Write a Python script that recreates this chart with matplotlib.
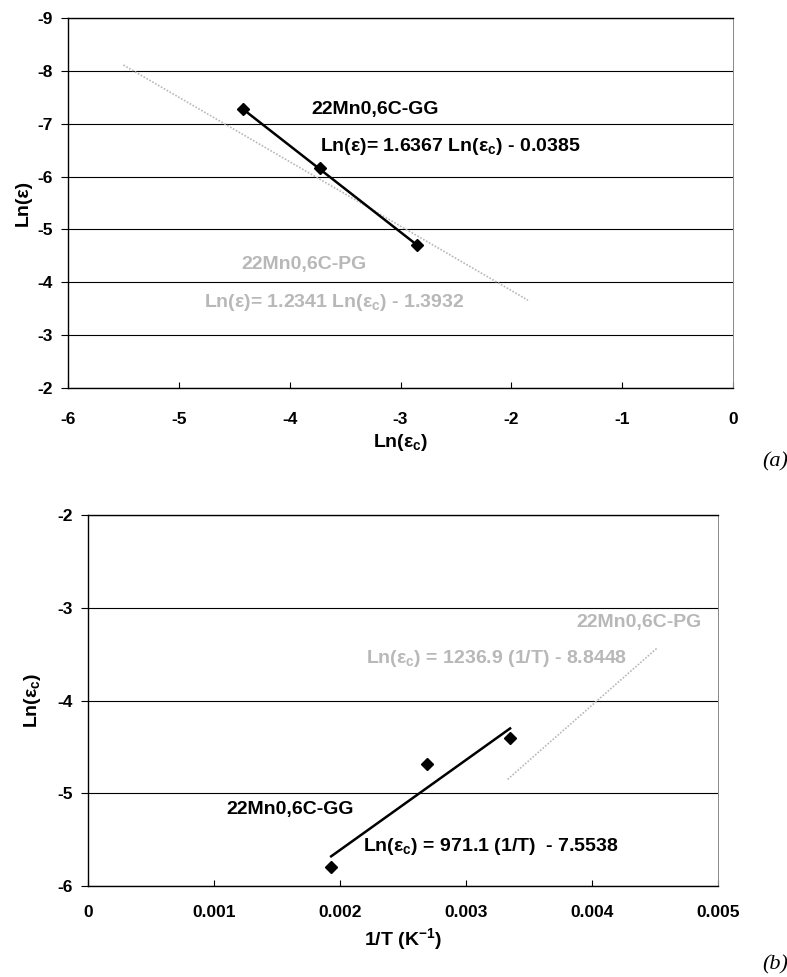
import matplotlib
matplotlib.use('Agg')
import matplotlib.pyplot as plt
import numpy             as np

plt.rcParams['font.family']        = ['Liberation Sans', 'DejaVu Sans']
plt.rcParams['font.weight']        = 'bold'
plt.rcParams['axes.labelweight']   = 'bold'
plt.rcParams['axes.unicode_minus'] = False
plt.rcParams['mathtext.fontset']   = 'custom'
plt.rcParams['mathtext.rm']        = 'Liberation Sans:bold'
plt.rcParams['mathtext.it']        = 'Liberation Sans:bold'
plt.rcParams['mathtext.bf']        = 'Liberation Sans:bold'

# (a) Ln(eps) vs Ln(eps_c)
gg_a_x = [-4.42, -3.73, -2.85]
gg_a_y = [-7.27, -6.17, -4.71]
gg_a_slope, gg_a_icpt = 1.6367, -0.0385
pg_a_x = [-5.50, -1.85]          # PG trendline
pg_a_y = [-8.11, -3.66]

a_xticks = [-6, -5, -4, -3, -2, -1, 0]
a_yticks = [-9, -8, -7, -6, -5, -4, -3, -2]

# (b) Ln(eps_c) vs 1/T
gg_b_x = [0.00193, 0.00269, 0.00335]
gg_b_y = [-5.80, -4.68, -4.40]
gg_b_slope, gg_b_icpt = 971.1, -7.5538
pg_b_x = [0.00333, 0.00452]
pg_b_y = [-4.85, -3.43]

b_xticks  = [0, 0.001, 0.002, 0.003, 0.004, 0.005]
b_xlabels = ['0', '0.001', '0.002', '0.003', '0.004', '0.005']
b_yticks  = [-6, -5, -4, -3, -2]

grey  = '#b8b8b8'
tfont = 12.5
afont = 14

fig = plt.figure(figsize=(7.87, 9.77), dpi=100)
axA = fig.add_axes([0.0864, 0.6029, 0.845, 0.3787])
axB = fig.add_axes([0.1118, 0.0931, 0.8005, 0.3797])


def style(ax, xpad):
    ax.grid(axis='y', color='black', lw=0.8)
    ax.set_axisbelow(True)
    for s in ['left', 'bottom', 'top']:
        ax.spines[s].set_linewidth(1.0)
    ax.spines['right'].set_color('#888888')
    ax.spines['right'].set_linewidth(0.7)
    ax.tick_params(axis='x', direction='in', length=4, labelsize=tfont, pad=xpad)
    ax.tick_params(axis='y', direction='out', length=5, labelsize=tfont, pad=6)


# ---- (a)
style(axA, 17)
axA.set_xlim(-6, 0)
axA.set_ylim(-2, -9)
axA.set_xticks(a_xticks)
axA.set_yticks(a_yticks)

axA.plot(pg_a_x, pg_a_y, color=grey, lw=1.2, ls=(0, (1, 1)))
xs = np.array([min(gg_a_x), max(gg_a_x)])
axA.plot(xs, gg_a_slope*xs + gg_a_icpt, color='black', lw=1.8)
axA.plot(gg_a_x, gg_a_y, ls='none', marker='D', ms=6, color='black')

axA.text(-3.80, -7.26, '22Mn0,6C-GG', fontsize=afont, va='center')
axA.text(-3.73, -6.56, 'Ln(ε)= 1.6367 Ln(ε$_c$) - 0.0385', fontsize=afont, va='center')
axA.text(-4.44, -4.33, '22Mn0,6C-PG', fontsize=afont, va='center', color=grey)
axA.text(-4.77, -3.61, 'Ln(ε)= 1.2341 Ln(ε$_c$) - 1.3932', fontsize=afont, va='center', color=grey)

axA.set_xlabel('Ln(ε$_c$)', fontsize=afont, labelpad=4)
axA.set_ylabel('Ln(ε)', fontsize=afont, labelpad=4)

# ---- (b)
style(axB, 14)
axB.set_xlim(0, 0.005)
axB.set_ylim(-6, -2)
axB.set_xticks(b_xticks, labels=b_xlabels)
axB.set_yticks(b_yticks)

axB.plot(pg_b_x, pg_b_y, color=grey, lw=1.2, ls=(0, (1, 1)))
xs = np.array([min(gg_b_x), max(gg_b_x)])
axB.plot(xs, gg_b_slope*xs + gg_b_icpt, color='black', lw=1.8)
axB.plot(gg_b_x, gg_b_y, ls='none', marker='D', ms=6, color='black')

axB.text(0.00110, -5.17, '22Mn0,6C-GG', fontsize=afont, va='center')
axB.text(0.00218, -5.57, 'Ln(ε$_c$) = 971.1 (1/T)  - 7.5538', fontsize=afont, va='center')
axB.text(0.00487, -3.16, '22Mn0,6C-PG', fontsize=afont, va='center', ha='right', color=grey)
axB.text(0.00428, -3.55, 'Ln(ε$_c$) = 1236.9 (1/T) - 8.8448', fontsize=afont, va='center', ha='right', color=grey)

axB.set_xlabel('1/T (K$^{-1}$)', fontsize=afont, labelpad=4)
axB.set_ylabel('Ln(ε$_c$)', fontsize=afont, labelpad=10)

fig.text(775/787, 1 - 462/977, '(a)', fontsize=16, family='Liberation Serif',
         style='italic', weight='normal', ha='center', va='center')
fig.text(775/787, 1 - 965/977, '(b)', fontsize=16, family='Liberation Serif',
         style='italic', weight='normal', ha='center', va='center')

fig.savefig('out.png', dpi=100)
